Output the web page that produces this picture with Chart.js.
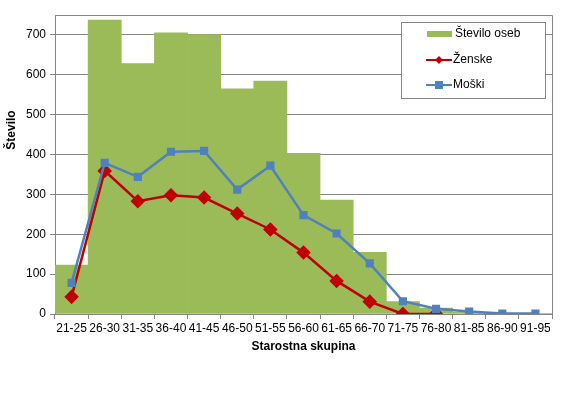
<!DOCTYPE html>
<html>
<head>
<meta charset="utf-8">
<script src="https://cdn.jsdelivr.net/npm/chart.js@4/dist/chart.umd.min.js"></script>
<style>
  html, body { margin: 0; padding: 0; background: #fff; }
  #wrap { width: 566px; height: 395px; }
</style>
</head>
<body>
<div id="wrap"><canvas id="chart"></canvas></div>
<script>
// podatki
const skupine = ["21-25","26-30","31-35","36-40","41-45","46-50","51-55","56-60","61-65","66-70","71-75","76-80","81-85","86-90","91-95"];
const steviloOseb = [123, 737, 628, 705, 701, 565, 584, 403, 286, 155, 31, 15, 4, 1, 1];
const zenske = [43, 359, 283, 298, 292, 252, 212, 154, 83, 31, 0, 0, null, null, null];
const moski = [78, 379, 344, 407, 409, 312, 372, 248, 202, 127, 32, 13, 6, 1, 1];
const yTicks = [0, 100, 200, 300, 400, 500, 600, 700];

const FONT = "'Liberation Sans', Arial, sans-serif";
const ZELENA = "#9BBB59", RDECA = "#C00000", MODRA = "#4F81BD";

// okvir, naslov osi y in legenda
const okvir = {
  id: "okvir",
  afterDraw(chart) {
    const ctx = chart.ctx, a = chart.chartArea;
    ctx.save();
    ctx.strokeStyle = "#868686";
    ctx.lineWidth = 1;
    ctx.beginPath();
    ctx.moveTo(a.left, a.top + 0.5);
    ctx.lineTo(a.right + 0.5, a.top + 0.5);
    ctx.lineTo(a.right + 0.5, a.bottom);
    ctx.stroke();

    // naslov osi y
    ctx.fillStyle = "#000";
    ctx.font = "bold 12px " + FONT;
    ctx.textAlign = "center";
    ctx.textBaseline = "middle";
    ctx.translate(12, 130);
    ctx.rotate(-Math.PI / 2);
    ctx.fillText("Število", 0, 0);
    ctx.restore();

    // legenda
    ctx.save();
    const lx = 401, ly = 22, lw = 144, lh = 76;
    ctx.fillStyle = "#fff";
    ctx.fillRect(lx, ly, lw, lh);
    ctx.strokeStyle = "#868686";
    ctx.strokeRect(lx + 0.5, ly + 0.5, lw, lh);
    ctx.font = "12px " + FONT;
    ctx.textBaseline = "middle";
    ctx.fillStyle = "#000";
    const x0 = 426, x1 = 452;
    // Število oseb
    ctx.fillStyle = ZELENA;
    ctx.fillRect(x0 + 1, 31, x1 - x0 - 1, 6);
    ctx.fillStyle = "#000";
    ctx.fillText("Število oseb", x1 + 3, 34);
    // Ženske
    ctx.strokeStyle = RDECA; ctx.lineWidth = 2;
    ctx.beginPath(); ctx.moveTo(x0, 60); ctx.lineTo(x1, 60); ctx.stroke();
    ctx.fillStyle = RDECA;
    ctx.beginPath();
    ctx.moveTo(439, 56); ctx.lineTo(443, 60); ctx.lineTo(439, 64); ctx.lineTo(435, 60);
    ctx.closePath(); ctx.fill();
    ctx.fillStyle = "#000";
    ctx.fillText("Ženske", x1 + 1, 60);
    // Moški
    ctx.strokeStyle = MODRA;
    ctx.beginPath(); ctx.moveTo(x0, 85); ctx.lineTo(x1, 85); ctx.stroke();
    ctx.fillStyle = MODRA;
    ctx.fillRect(435, 81, 8, 8);
    ctx.fillStyle = "#000";
    ctx.fillText("Moški", x1 + 1, 85);
    ctx.restore();
  }
};

new Chart(document.getElementById("chart"), {
  data: {
    labels: skupine,
    datasets: [
      { type: "line", label: "Moški", data: moski, borderColor: MODRA, backgroundColor: MODRA,
        borderWidth: 2.5, pointStyle: "rect", pointRadius: 4, pointHoverRadius: 4, order: 1 },
      { type: "line", label: "Ženske", data: zenske, borderColor: RDECA, backgroundColor: RDECA,
        borderWidth: 2.5, pointStyle: "rectRot", pointRadius: 5.5, pointHoverRadius: 5.5, order: 2 },
      { type: "bar", label: "Število oseb", data: steviloOseb, backgroundColor: ZELENA,
        categoryPercentage: 1, barPercentage: 1, borderWidth: 0, order: 3 }
    ]
  },
  options: {
    responsive: true,
    maintainAspectRatio: false,
    animation: false,
    layout: { padding: { left: 0, right: 14, top: 15, bottom: 41 } },
    plugins: { legend: { display: false }, tooltip: { enabled: false } },
    scales: {
      x: {
        offset: true,
        grid: { offset: true, drawOnChartArea: false, color: "#868686", tickLength: 5 },
        border: { color: "#868686" },
        ticks: { color: "#000", font: { family: FONT, size: 12 }, maxRotation: 0, autoSkip: false, padding: 2 },
        title: { display: true, text: "Starostna skupina", color: "#000",
                 font: { family: FONT, size: 12, weight: "bold" }, padding: { top: 4, bottom: 0 } },
        afterFit(s) { s.height = 40; }
      },
      y: {
        min: 0, max: 750,
        afterBuildTicks(s) { s.ticks = yTicks.map(v => ({ value: v })); },
        grid: { color: "#868686", tickLength: 5 },
        border: { color: "#868686" },
        ticks: { color: "#000", font: { family: FONT, size: 12 }, padding: 4 },
        afterFit(s) { s.width = 55; }
      }
    }
  },
  plugins: [okvir]
});
</script>
</body>
</html>
